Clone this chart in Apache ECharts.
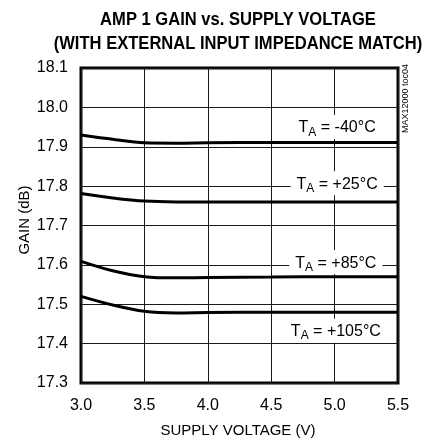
<!DOCTYPE html>
<html><head><meta charset="utf-8">
<script src="https://cdn.jsdelivr.net/npm/echarts@6/dist/echarts.min.js"></script>
<style>html,body{margin:0;padding:0;background:#fff}#c{width:425px;height:440px}</style>
</head><body><div id="c"></div>
<script>
const voltages = [3.0, 3.25, 3.5, 3.75, 4.0, 4.5, 5.0, 5.5];
const gainM40 = [17.930, 17.919, 17.910, 17.909, 17.910, 17.911, 17.911, 17.911];
const gainP25 = [17.781, 17.770, 17.762, 17.760, 17.760, 17.760, 17.760, 17.760];
const gainP85 = [17.609, 17.585, 17.570, 17.567, 17.568, 17.569, 17.570, 17.570];
const gainP105 = [17.520, 17.498, 17.482, 17.478, 17.479, 17.480, 17.480, 17.480];
const seriesNames = ['-40°C', '+25°C', '+85°C', '+105°C'];
const labelAnchors = [[5.02, 17.950], [5.02, 17.807], [5.01, 17.607], [5.01, 17.433]];
const titleLines = ['AMP 1 GAIN vs. SUPPLY VOLTAGE', '(WITH EXTERNAL INPUT IMPEDANCE MATCH)'];
const xAxisTitle = 'SUPPLY VOLTAGE (V)';
const yAxisTitle = 'GAIN (dB)';

const FONT = '"Liberation Sans", Arial, sans-serif';
const all = [gainM40, gainP25, gainP85, gainP105];

const chart = echarts.init(document.getElementById('c'), null, {renderer: 'canvas'});
chart.setOption({
  animation: false,
  backgroundColor: '#fff',
  grid: {left: 81, right: 27, top: 68, bottom: 57, show: true, borderColor: '#000', borderWidth: 3, backgroundColor: 'transparent'},
  xAxis: {
    type: 'value', min: 3.0, max: 5.5, interval: 0.5,
    axisLine: {show: false}, axisTick: {show: false},
    axisLabel: {fontFamily: FONT, fontSize: 16, color: '#000', margin: 15, formatter: v => v.toFixed(1)},
    splitLine: {show: true, lineStyle: {color: '#1a1a1a', width: 1}}
  },
  yAxis: {
    type: 'value', min: 17.3, max: 18.1, interval: 0.1,
    axisLine: {show: false}, axisTick: {show: false},
    axisLabel: {fontFamily: FONT, fontSize: 16, color: '#000', margin: 13, formatter: v => v.toFixed(1)},
    splitLine: {show: true, lineStyle: {color: '#1a1a1a', width: 1}}
  },
  graphic: [
    {
      type: 'text', x: 238, y: 20, scaleX: 0.92,
      style: {text: titleLines[0], font: 'bold 18px ' + FONT, fill: '#000', align: 'center', verticalAlign: 'middle'}
    },
    {
      type: 'text', x: 238, y: 44, scaleX: 0.92,
      style: {text: titleLines[1], font: 'bold 18px ' + FONT, fill: '#000', align: 'center', verticalAlign: 'middle'}
    },
    {
      type: 'text', x: 238, y: 431,
      style: {text: xAxisTitle, font: '15px ' + FONT, fill: '#000', align: 'center', verticalAlign: 'middle'}
    },
    {
      type: 'text', x: 25, y: 220, rotation: Math.PI / 2,
      style: {text: yAxisTitle, font: '15px ' + FONT, fill: '#000', align: 'center', verticalAlign: 'middle'}
    },
    {
      type: 'text', x: 401, y: 133, rotation: Math.PI / 2,
      style: {text: 'MAX12000 toc04', font: '9px ' + FONT, fill: '#000'}
    }
  ],
  series: all.map((arr, i) => ({
    type: 'line', name: seriesNames[i],
    data: voltages.map((v, j) => [v, arr[j]]),
    smooth: 0.3, showSymbol: false,
    lineStyle: {color: '#000', width: 3},
    z: 3,
    markPoint: {
      symbol: 'rect', symbolSize: 0, silent: true,
      data: [{coord: labelAnchors[i]}],
      label: {
        show: true, position: 'inside',
        backgroundColor: '#fff', padding: [2, 6, 0, 6],
        formatter: '{t|T}{s|A}{t| = ' + seriesNames[i] + '}',
        rich: {
          t: {fontFamily: FONT, fontSize: 16, color: '#000', lineHeight: 22},
          s: {fontFamily: FONT, fontSize: 12, color: '#000', lineHeight: 22, padding: [9, 0, 0, 0]}
        }
      }
    }
  }))
});
</script></body></html>
